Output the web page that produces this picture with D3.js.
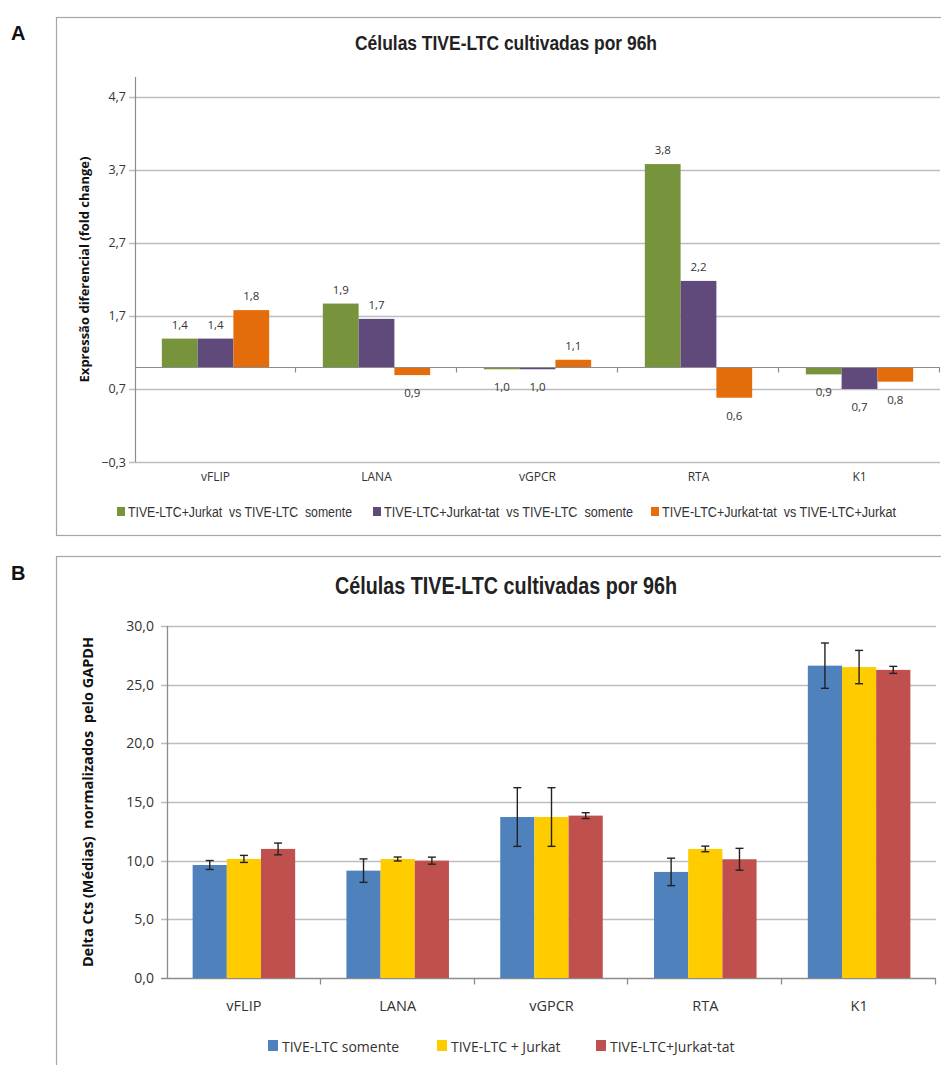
<!DOCTYPE html>
<html>
<head>
<meta charset="utf-8">
<script src="https://cdn.jsdelivr.net/npm/d3@7/dist/d3.min.js"></script>
<style>
  html, body { margin: 0; padding: 0; background: #fff; }
  svg { display: block; }
  .cal { font-family: "Open Sans", "Noto Sans", sans-serif; }
  .narrow { font-family: "Liberation Sans Narrow", "Arial Narrow", "Liberation Sans", sans-serif; }
</style>
</head>
<body>
<svg id="chart" width="941" height="1065"></svg>
<script>
// ---------- Panel A data ----------
const categoriesA = ["vFLIP", "LANA", "vGPCR", "RTA", "K1"];
const seriesNamesA = [
  "TIVE-LTC+Jurkat  vs TIVE-LTC  somente",
  "TIVE-LTC+Jurkat-tat  vs TIVE-LTC  somente",
  "TIVE-LTC+Jurkat-tat  vs TIVE-LTC+Jurkat"
];
const jurkatVsSomente    = [1.39, 1.87, 0.97, 3.78, 0.90];
const jurkatTatVsSomente = [1.39, 1.66, 0.97, 2.18, 0.70];
const jurkatTatVsJurkat  = [1.78, 0.89, 1.10, 0.58, 0.80];
const labelsA = [
  ["1,4", "1,9", "1,0", "3,8", "0,9"],
  ["1,4", "1,7", "1,0", "2,2", "0,7"],
  ["1,8", "0,9", "1,1", "0,6", "0,8"]
];
const ticksA = [-0.3, 0.7, 1.7, 2.7, 3.7, 4.7];
const baselineA = 1.0;
const colorsA = ["#77933C", "#604A7B", "#E46C0A"];

// ---------- Panel B data ----------
const categoriesB = ["vFLIP", "LANA", "vGPCR", "RTA", "K1"];
const seriesNamesB = ["TIVE-LTC somente", "TIVE-LTC + Jurkat", "TIVE-LTC+Jurkat-tat"];
const somenteMean   = [9.63, 9.15, 13.72, 9.04, 26.62];
const somenteErr    = [0.38, 1.00, 2.50, 1.17, 1.93];
const jurkatMean    = [10.15, 10.14, 13.72, 11.00, 26.50];
const jurkatErr     = [0.30, 0.17, 2.50, 0.24, 1.42];
const jurkatTatMean = [11.00, 10.00, 13.84, 10.12, 26.26];
const jurkatTatErr  = [0.50, 0.30, 0.25, 0.93, 0.30];
const ticksB = [0, 5, 10, 15, 20, 25, 30];
const colorsB = ["#4F81BD", "#FFCC00", "#C0504D"];

const titleText = "Células TIVE-LTC cultivadas por 96h";
const fmt = v => d3.format(".1f")(v).replace(".", ",");

const svg = d3.select("#chart");
const gridCol = "#BDBDBD", axisCol = "#8C8C8C", textCol = "#333";

// Panel letters
svg.append("text").attr("x", 11).attr("y", 40).text("A")
  .attr("font-family", "Liberation Sans, Arial, sans-serif").attr("font-weight", "bold").attr("font-size", 20).attr("fill", "#111");
svg.append("text").attr("x", 11).attr("y", 580).text("B")
  .attr("font-family", "Liberation Sans, Arial, sans-serif").attr("font-weight", "bold").attr("font-size", 20).attr("fill", "#111");

// Frames
svg.append("rect").attr("x", 56.5).attr("y", 17.5).attr("width", 900).attr("height", 518)
  .attr("fill", "none").attr("stroke", "#A6A6A6").attr("stroke-width", 1.2);
svg.append("rect").attr("x", 56.5).attr("y", 556.5).attr("width", 900).attr("height", 600)
  .attr("fill", "none").attr("stroke", "#A6A6A6").attr("stroke-width", 1.2);

// ================= PANEL A =================
(function () {
  const left = 135, right = 940, top = 75, bottom = 462;
  const y = d3.scaleLinear().domain([-0.3, 5.0]).range([bottom, top]);
  const x = d3.scaleBand().domain(categoriesA).range([left, right]).padding(0);
  const xs = d3.scaleBand().domain([0, 1, 2]).range([0, x.bandwidth()]).paddingInner(0).paddingOuter(0.75);
  const series = [jurkatVsSomente, jurkatTatVsSomente, jurkatTatVsJurkat];
  const g = svg.append("g");

  g.selectAll("line.grid").data(ticksA).join("line")
    .attr("x1", left - 6).attr("x2", right).attr("y1", d => Math.round(y(d)) + 0.5).attr("y2", d => Math.round(y(d)) + 0.5)
    .attr("stroke", gridCol).attr("stroke-width", 1.3);

  const yAxis = d3.axisLeft(y).tickValues(ticksA).tickFormat(fmt).tickSize(0).tickPadding(9);
  const ya = g.append("g").attr("transform", `translate(${left},0)`).call(yAxis);
  ya.select(".domain").remove();
  ya.selectAll("text").attr("class", "cal").attr("font-size", 12.5).attr("fill", textCol);
  g.append("line").attr("x1", left + 0.5).attr("x2", left + 0.5).attr("y1", top + 2).attr("y2", bottom)
    .attr("stroke", axisCol).attr("stroke-width", 1.2);

  series.forEach((vals, si) => {
    g.selectAll(null).data(vals.map((v, i) => ({ v, c: categoriesA[i] }))).join("rect")
      .attr("x", d => x(d.c) + xs(si))
      .attr("width", xs.bandwidth())
      .attr("y", d => y(Math.max(d.v, baselineA)))
      .attr("height", d => Math.abs(y(d.v) - y(baselineA)))
      .attr("fill", colorsA[si]);
  });

  const by = Math.round(y(baselineA)) + 0.5;
  g.append("line").attr("x1", left).attr("x2", right).attr("y1", by).attr("y2", by)
    .attr("stroke", axisCol).attr("stroke-width", 1.2);
  const bounds = categoriesA.map(c => x(c) + x.bandwidth());
  g.selectAll("line.tk").data(bounds).join("line")
    .attr("x1", d => Math.round(d) - 0.5).attr("x2", d => Math.round(d) - 0.5).attr("y1", by).attr("y2", by + 5)
    .attr("stroke", axisCol).attr("stroke-width", 1.2);

  series.forEach((vals, si) => {
    g.selectAll(null).data(vals.map((v, i) => ({ v, c: categoriesA[i], t: labelsA[si][i] }))).join("text")
      .attr("class", "cal")
      .attr("x", d => x(d.c) + xs(si) + xs.bandwidth() / 2)
      .attr("y", d => d.v >= baselineA ? y(d.v) - 10 : y(d.v) + 22)
      .attr("text-anchor", "middle").attr("font-size", 11.5).attr("fill", textCol)
      .text(d => d.t);
  });

  g.selectAll(null).data(categoriesA).join("text")
    .attr("class", "cal")
    .attr("x", d => x(d) + x.bandwidth() / 2).attr("y", 481)
    .attr("text-anchor", "middle").attr("font-size", 12).attr("fill", textCol)
    .text(d => d);

  svg.append("text").attr("class", "cal")
    .attr("transform", `translate(89,${(top + bottom) / 2 + 1}) rotate(-90)`)
    .attr("text-anchor", "middle").attr("font-size", 13).attr("font-weight", "bold").attr("fill", "#111")
    .text("Expressão diferencial (fold change)");

  svg.append("text").attr("class", "narrow")
    .attr("x", 355).attr("y", 50)
    .attr("font-size", 20).attr("font-weight", "bold").attr("fill", "#222")
    .attr("textLength", 302).attr("lengthAdjust", "spacingAndGlyphs")
    .text(titleText);

  const legX = [117, 373, 651];
  const legW = [224, 249, 234];
  const lg = svg.append("g");
  seriesNamesA.forEach((n, i) => {
    lg.append("rect").attr("x", legX[i]).attr("y", 507).attr("width", 8).attr("height", 9).attr("fill", colorsA[i]);
    lg.append("text").attr("class", "narrow").attr("x", legX[i] + 11).attr("y", 517)
      .attr("font-size", 14).attr("fill", textCol)
      .attr("textLength", legW[i]).attr("lengthAdjust", "spacingAndGlyphs")
      .style("white-space", "pre").text(n);
  });
})();

// ================= PANEL B =================
(function () {
  const left = 167, right = 936, top = 626, bottom = 978;
  const y = d3.scaleLinear().domain([0, 30]).range([bottom, top]);
  const x = d3.scaleBand().domain(categoriesB).range([left, right]).padding(0);
  const xs = d3.scaleBand().domain([0, 1, 2]).range([0, x.bandwidth()]).paddingInner(0).paddingOuter(0.75);
  const means = [somenteMean, jurkatMean, jurkatTatMean];
  const errs = [somenteErr, jurkatErr, jurkatTatErr];
  const g = svg.append("g");

  g.selectAll("line.grid").data(ticksB).join("line")
    .attr("x1", left - 6).attr("x2", right).attr("y1", d => Math.round(y(d)) + 0.5).attr("y2", d => Math.round(y(d)) + 0.5)
    .attr("stroke", d => d === 0 ? axisCol : gridCol).attr("stroke-width", 1.4);

  const yAxis = d3.axisLeft(y).tickValues(ticksB).tickFormat(fmt).tickSize(0).tickPadding(13);
  const ya = g.append("g").attr("transform", `translate(${left},0)`).call(yAxis);
  ya.select(".domain").remove();
  ya.selectAll("text").attr("class", "cal").attr("font-size", 14).attr("fill", textCol);
  g.append("line").attr("x1", left + 0.5).attr("x2", left + 0.5).attr("y1", top).attr("y2", bottom)
    .attr("stroke", axisCol).attr("stroke-width", 1.3);

  means.forEach((vals, si) => {
    g.selectAll(null).data(vals.map((v, i) => ({ v, c: categoriesB[i] }))).join("rect")
      .attr("x", d => x(d.c) + xs(si))
      .attr("width", xs.bandwidth())
      .attr("y", d => y(d.v))
      .attr("height", d => y(0) - y(d.v))
      .attr("fill", colorsB[si]);
  });

  means.forEach((vals, si) => {
    const data = vals.map((v, i) => ({ v, e: errs[si][i], cx: x(categoriesB[i]) + xs(si) + xs.bandwidth() / 2 }));
    const eg = g.append("g").attr("stroke", "#222").attr("stroke-width", 1.4);
    eg.selectAll(null).data(data).join("line")
      .attr("x1", d => d.cx).attr("x2", d => d.cx).attr("y1", d => y(d.v - d.e)).attr("y2", d => y(d.v + d.e));
    eg.selectAll(null).data(data).join("line")
      .attr("x1", d => d.cx - 4).attr("x2", d => d.cx + 4).attr("y1", d => y(d.v + d.e)).attr("y2", d => y(d.v + d.e));
    eg.selectAll(null).data(data).join("line")
      .attr("x1", d => d.cx - 4).attr("x2", d => d.cx + 4).attr("y1", d => y(d.v - d.e)).attr("y2", d => y(d.v - d.e));
  });

  const by = Math.round(y(0)) + 0.5;
  const bounds = categoriesB.map(c => x(c) + x.bandwidth());
  g.selectAll("line.tk").data(bounds).join("line")
    .attr("x1", d => Math.round(d) - 0.5).attr("x2", d => Math.round(d) - 0.5).attr("y1", by).attr("y2", by + 6)
    .attr("stroke", axisCol).attr("stroke-width", 1.3);

  g.selectAll(null).data(categoriesB).join("text")
    .attr("class", "cal")
    .attr("x", d => x(d) + x.bandwidth() / 2).attr("y", 1011)
    .attr("text-anchor", "middle").attr("font-size", 14.5).attr("fill", textCol)
    .text(d => d);

  svg.append("text").attr("class", "cal")
    .attr("transform", `translate(93,${(top + bottom) / 2}) rotate(-90)`)
    .attr("text-anchor", "middle").attr("font-size", 14.5).attr("font-weight", "bold").attr("fill", "#111")
    .style("white-space", "pre")
    .text("Delta Cts (Médias)  normalizados  pelo GAPDH");

  svg.append("text").attr("class", "narrow")
    .attr("x", 335).attr("y", 594)
    .attr("font-size", 23).attr("font-weight", "bold").attr("fill", "#222")
    .attr("textLength", 342).attr("lengthAdjust", "spacingAndGlyphs")
    .text(titleText);

  const legX = [268, 437, 596];
  seriesNamesB.forEach((n, i) => {
    svg.append("rect").attr("x", legX[i]).attr("y", 1040).attr("width", 10).attr("height", 11).attr("fill", colorsB[i]);
    svg.append("text").attr("class", "cal").attr("x", legX[i] + 14).attr("y", 1052)
      .attr("font-size", 14).attr("fill", textCol).text(n);
  });
})();
</script>
</body>
</html>
